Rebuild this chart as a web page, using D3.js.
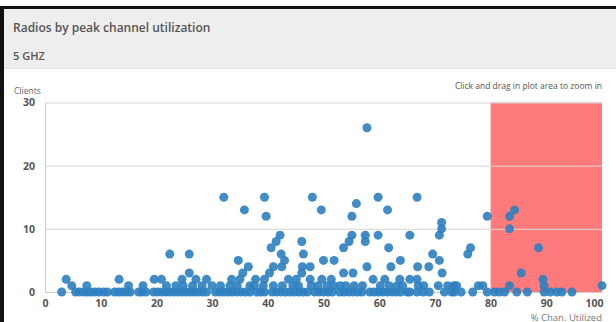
<!DOCTYPE html>
<html>
<head>
<meta charset="utf-8">
<script src="https://cdn.jsdelivr.net/npm/d3@7"></script>
<style>
  body { margin: 0; background: #fff; }
  svg { display: block; font-family: "Open Sans", sans-serif; }
</style>
</head>
<body>
<script>
const w = 616, h = 322;

// points grouped by client count (y), each list holds % channel utilization (x)
const clientLevels = [0, 1, 2, 3, 4, 5, 6, 7, 8, 9, 10, 11, 12, 13, 14, 15, 26];
const utilByLevel = [
    [3.0, 5.5, 6.2, 7.0, 7.6, 8.3, 9.0, 9.7, 10.5, 11.2, 12.5, 13.2, 13.9, 14.6, 15.3, 16.8, 17.4, 18.1,
     19.5, 20.2, 21.0, 21.7, 22.4, 23.1, 23.9, 24.6, 25.3, 26.1, 26.8, 27.5, 28.3, 29.0, 30.6, 31.4, 32.1,
     32.9, 33.6, 34.4, 35.2, 36.0, 36.8, 38.0, 38.7, 39.4, 40.8, 41.6, 42.4, 43.2, 44.0, 44.8, 45.6, 46.3,
     47.1, 48.4, 49.2, 50.0, 50.8, 51.6, 52.9, 53.7, 54.5, 55.3, 56.1, 56.9, 58.3, 59.1, 59.9, 60.7, 61.5,
     62.3, 63.0, 63.8, 65.0, 65.5, 66.8, 67.9, 69.0, 71.7, 73.0, 73.5, 74.7, 76.8, 79.4, 80.7, 81.5, 82.5,
     84.7, 86.6, 89.6, 90.7, 91.9, 92.8, 94.6],
    [4.8, 7.5, 15.0, 17.6, 21.8, 23.5, 24.8, 26.5, 28.2, 30.0, 31.5, 33.2, 34.5, 36.8, 37.6, 39.2, 41.0,
     42.6, 44.5, 45.5, 47.8, 49.0, 50.6, 51.8, 53.0, 54.0, 55.5, 57.0, 60.2, 61.8, 63.2, 64.2, 67.0, 68.0,
     70.6, 72.3, 73.4, 73.9, 77.8, 78.6, 83.4, 89.6, 100],
    [3.8, 13.3, 19.6, 20.9, 24.6, 27.1, 29.0, 33.5, 35.0, 37.8, 39.4, 43.7, 45.1, 47.6, 49.7, 51.4, 58.9,
     61.0, 63.7, 65.5, 66.8, 89.4],
    [25.9, 35.5, 40.3, 46.1, 53.6, 55.3, 71.3, 85.5],
    [36.5, 41.0, 42.5, 46.2, 47.6, 57.8, 62.1, 66.9, 68.9],
    [34.7, 43.0, 50.0, 51.9, 63.8, 70.8],
    [22.4, 25.9, 42.4, 46.4, 69.6, 75.9],
    [40.6, 53.6, 61.7, 76.4, 88.6],
    [41.5, 46.1, 54.6, 57.5],
    [42.2, 55.1, 57.5, 59.8, 65.5, 70.8],
    [71.2, 83.4],
    [71.2],
    [39.7, 55.1, 79.4, 83.4],
    [35.8, 49.6, 61.5, 84.3],
    [55.9],
    [32.1, 39.4, 48.0, 59.8, 66.8],
    [57.8]
];
const xTicks = [0, 10, 20, 30, 40, 50, 60, 70, 80, 90, 100];
const yTicks = [0, 10, 20, 30];
const zoomBand = [80, 100];

const points = [];
clientLevels.forEach((c, i) => {
    utilByLevel[i].forEach(u => points.push({ util: u, clients: c }));
});

const xScale = d3.scaleLinear().domain([0, 100]).range([45, 602]);
const yScale = d3.scaleLinear().domain([0, 30]).range([292, 102.5]);

const svg = d3.select("body").append("svg")
    .attr("width", w)
    .attr("height", h);

// frame + header
svg.append("rect").attr("x", 0).attr("y", 0).attr("width", w).attr("height", h).attr("fill", "#fff");
svg.append("rect").attr("x", 4).attr("y", 9).attr("width", w - 4).attr("height", 59).attr("fill", "#eeeeee");
svg.append("line").attr("x1", 4).attr("x2", w).attr("y1", 68.5).attr("y2", 68.5).attr("stroke", "#e0e0e0");
svg.append("rect").attr("x", 0).attr("y", 6).attr("width", w).attr("height", 3).attr("fill", "#111");
svg.append("rect").attr("x", 0).attr("y", 6).attr("width", 4).attr("height", h - 6).attr("fill", "#111");

svg.append("text").attr("x", 13).attr("y", 32)
    .attr("font-size", 12).attr("font-weight", 600).attr("fill", "#555")
    .text("Radios by peak channel utilization");
svg.append("text").attr("x", 13).attr("y", 60)
    .attr("font-size", 11).attr("font-weight", 600).attr("fill", "#555")
    .text("5 GHZ");

// zoom band
svg.append("rect")
    .attr("x", xScale(zoomBand[0]))
    .attr("y", yScale(30))
    .attr("width", xScale(zoomBand[1]) - xScale(zoomBand[0]))
    .attr("height", yScale(0) - yScale(30))
    .attr("fill", "#ff7b7b");

// grid
svg.append("g")
    .selectAll("line")
    .data(yTicks.filter(d => d > 0))
    .enter()
    .append("line")
    .attr("x1", xScale(0)).attr("x2", xScale(100))
    .attr("y1", d => yScale(d) + 0.5).attr("y2", d => yScale(d) + 0.5)
    .attr("stroke", "#d6d6d6");

// axes
const yAxis = svg.append("g")
    .attr("transform", "translate(" + xScale(0) + ",0)")
    .call(d3.axisLeft(yScale).tickValues(yTicks).tickSize(0).tickPadding(10));
yAxis.select(".domain").attr("stroke", "#ccc");
yAxis.selectAll("text").attr("font-size", 10.5).attr("font-weight", 700).attr("fill", "#555")
    .attr("font-family", "Open Sans, sans-serif");

const xAxis = svg.append("g")
    .attr("transform", "translate(0," + yScale(0) + ")")
    .call(d3.axisBottom(xScale).tickValues(xTicks).tickSize(0).tickPadding(8));
xAxis.select(".domain").attr("stroke", "#ccc");
xAxis.selectAll("text").attr("font-size", 10.5).attr("font-weight", 700).attr("fill", "#555")
    .attr("font-family", "Open Sans, sans-serif")
    .attr("dx", d => d === 100 ? -8 : 0);

// points
svg.append("g")
    .selectAll("circle")
    .data(points)
    .enter()
    .append("circle")
    .attr("cx", d => xScale(d.util))
    .attr("cy", d => yScale(d.clients))
    .attr("r", 4.5)
    .attr("fill", "#2d7fc0")
    .attr("fill-opacity", 0.9);

// labels
svg.append("text").attr("x", 14).attr("y", 94)
    .attr("font-size", 8.5).attr("fill", "#666").text("Clients");
svg.append("text").attr("x", 602).attr("y", 89).attr("text-anchor", "end")
    .attr("font-size", 8.5).attr("fill", "#555").text("Click and drag in plot area to zoom in");
svg.append("text").attr("x", 602).attr("y", 320.5).attr("text-anchor", "end")
    .attr("font-size", 9.5).attr("fill", "#777").text("% Chan. Utilized");
</script>
</body>
</html>
